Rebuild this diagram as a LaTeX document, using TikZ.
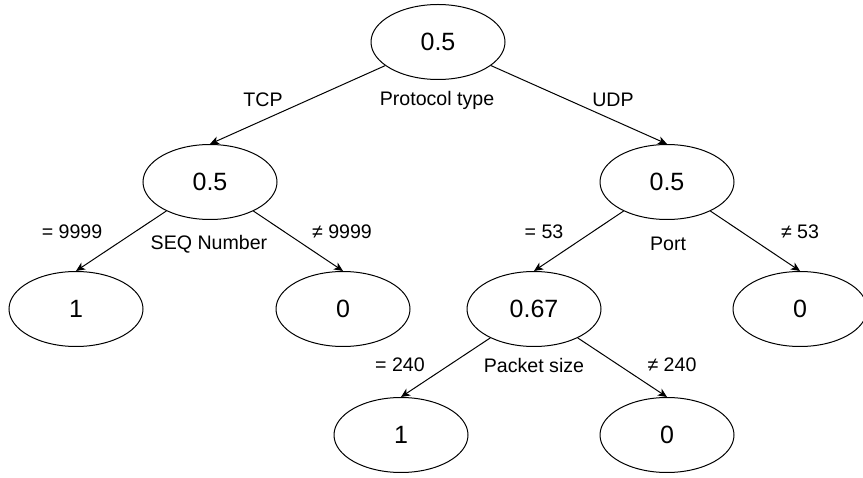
\documentclass[tikz,border=0pt]{standalone}
\usepackage{fontspec}
\setmainfont{Liberation Sans}
\usetikzlibrary{arrows.meta,shapes.geometric}

\begin{document}
\begin{tikzpicture}[x=1pt,y=-1pt,
    val/.style={draw,ellipse,line width=1pt,minimum width=134pt,minimum height=75pt,inner sep=0pt,font=\fontsize{25}{30}\selectfont},
    lab/.style={inner sep=0pt,font=\fontsize{19.6}{23}\selectfont},
    >={Stealth[length=9pt,width=8pt,inset=2.5pt]}]
    \useasboundingbox (0,0) rectangle (863,478);
    \node[val] (r) at (438, 42) {0.5};
    \node[val] (t) at (210, 182) {0.5};
    \node[val] (u) at (667, 182) {0.5};
    \node[val] (ta) at (76, 309) {1};
    \node[val] (tb) at (343, 309) {0};
    \node[val] (ua) at (534, 309) {0.67};
    \node[val] (ub) at (800, 309) {0};
    \node[val] (pa) at (401, 435) {1};
    \node[val] (pb) at (667, 435) {0};
    \node[lab] (lr) at (437, 100) {Protocol type};
    \node[lab] (ltcp) at (263, 100) {TCP};
    \node[lab] (ludp) at (613, 100) {UDP};
    \node[lab] (lt) at (209, 244) {SEQ Number};
    \node[lab] (lteq) at (72, 232) {= 9999};
    \node[lab] (ltne) at (342, 232) {≠ 9999};
    \node[lab] (lu) at (668, 244) {Port};
    \node[lab] (lueq) at (544, 232) {= 53};
    \node[lab] (lune) at (800, 232) {≠ 53};
    \node[lab] (lp) at (534, 365) {Packet size};
    \node[lab] (lpeq) at (400, 365) {= 240};
    \node[lab] (lpne) at (672, 365) {≠ 240};
    \draw [->,line width=1pt] (r) to (t.north);
    \draw [->,line width=1pt] (r) to (u.north);
    \draw [->,line width=1pt] (t) to (ta.north);
    \draw [->,line width=1pt] (t) to (tb.north);
    \draw [->,line width=1pt] (u) to (ua.north);
    \draw [->,line width=1pt] (u) to (ub.north);
    \draw [->,line width=1pt] (ua) to (pa.north);
    \draw [->,line width=1pt] (ua) to (pb.north);
  \end{tikzpicture}
\end{document}
